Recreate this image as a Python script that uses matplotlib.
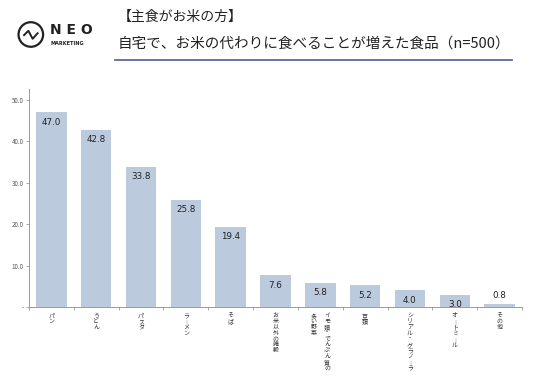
import matplotlib
matplotlib.use("Agg")
import matplotlib.pyplot as plt
from matplotlib.patches import Circle

plt.rcParams["font.family"] = ["Noto Sans CJK JP", "DejaVu Sans"]

TITLE_1 = "【主食がお米の方】"
TITLE_2 = "自宅で、お米の代わりに食べることが増えた食品（n=500）"
categories = ["パン", "うどん", "パスタ", "ラーメン", "そば", "お米以外の雑穀",
              "イモ類・でんぷん質の|多い野菜", "豆類", "シリアル・グラノーラ",
              "オートミール", "その他"]
values = [47.0, 42.8, 33.8, 25.8, 19.4, 7.6, 5.8, 5.2, 4.0, 3.0, 0.8]
yticks = [0, 10, 20, 30, 40, 50]
ytick_labels = ["-", "10.0", "20.0", "30.0", "40.0", "50.0"]

BAR = "#bccadd"
AXIS = "#9a9a9a"
TXT = "#333333"
STEP = 4.2  # points between stacked characters

fig = plt.figure(figsize=(5.36, 3.79), dpi=100)
ax = fig.add_axes([0.054, 0.19, 0.92, 0.574])

x = range(len(values))
ax.bar(x, values, width=0.68, color=BAR, zorder=2)
for i, v in enumerate(values):
    if v > 2:
        ax.text(i, v - 1.3, f"{v:.1f}", ha="center", va="top", fontsize=6.3,
                color="#222222", family="DejaVu Sans")
    else:
        ax.text(i, v + 0.8, f"{v:.1f}", ha="center", va="bottom", fontsize=6.3,
                color="#222222", family="DejaVu Sans")

ax.set_xlim(-0.5, len(values) - 0.5)
ax.set_ylim(0, 52.5)
ax.set_yticks(yticks)
ax.set_yticklabels(ytick_labels, fontsize=4.5, color="#555555")
ax.set_xticks([i - 0.5 for i in range(len(values) + 1)])
ax.set_xticklabels([])
ax.tick_params(axis="both", length=2, width=0.6, color=AXIS, pad=2)
ax.tick_params(axis="x", direction="out")
for side in ("top", "right"):
    ax.spines[side].set_visible(False)
for side in ("left", "bottom"):
    ax.spines[side].set_color(AXIS)
    ax.spines[side].set_linewidth(0.7)

# vertical category labels, one character at a time
for i, cat in enumerate(categories):
    cols = cat.split("|")
    n = len(cols)
    for j, col in enumerate(cols):
        dx = (n - 1) / 2 * 0.3 - j * 0.3
        for k, ch in enumerate(col):
            if ch == "ー":
                ch = "｜"
            ax.annotate(ch, xy=(i + dx, 0), xytext=(0, -4.5 - k * STEP),
                        textcoords="offset points", ha="center", va="top",
                        fontsize=4.3, color=TXT, annotation_clip=False)

# header
fig.text(0.22, 0.955, TITLE_1, fontsize=10, color="#222222", va="center")
fig.text(0.22, 0.885, TITLE_2, fontsize=10.5, color="#222222", va="center")
fig.add_artist(plt.Line2D([0.215, 0.955], [0.843, 0.843], color="#5c6b9b",
                          lw=1.3, transform=fig.transFigure))

# logo
logo = fig.add_axes([0.03, 0.87, 0.055, 0.078])
logo.set_xlim(-1.2, 1.2)
logo.set_ylim(-1.2, 1.2)
logo.set_aspect("equal")
logo.axis("off")
logo.add_patch(Circle((0, 0), 1.0, fill=False, lw=1.6, color="#222222"))
logo.plot([-0.55, -0.2, 0.15, 0.55], [-0.05, 0.3, -0.35, 0.1],
          color="#222222", lw=1.4)
fig.text(0.093, 0.922, "N E O", fontsize=10, fontweight="bold",
         color="#222222", family="DejaVu Sans", va="center")
fig.text(0.095, 0.885, "MARKETING", fontsize=3.6, fontweight="bold",
         color="#222222", family="DejaVu Sans", va="center")

fig.savefig("out.png", dpi=100, facecolor="white")
